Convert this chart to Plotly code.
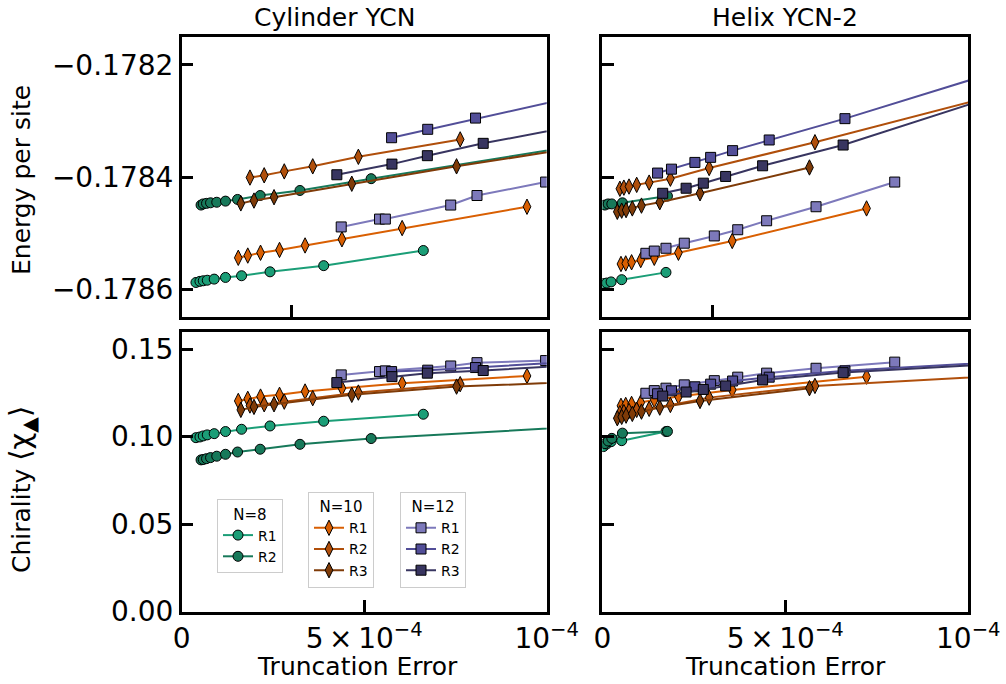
import plotly.graph_objects as go

# ---------------- data (truncation error in units of 1e-4) ----------------
X_UNIT = 1e-4

# Cylinder YCN
cyl_n8_r1_x = [0.39, 0.50, 0.59, 0.70, 0.89, 1.20, 1.64, 2.42, 3.89, 6.62]
cyl_n8_r1_E = [-0.178588, -0.178586, -0.178585, -0.178584, -0.178582, -0.178579, -0.178576, -0.178569, -0.178558, -0.178531]
cyl_n8_r1_chi = [0.0994, 0.0998, 0.1004, 0.1010, 0.1017, 0.1029, 0.1042, 0.1061, 0.1088, 0.1128]

cyl_n8_r2_x = [0.53, 0.59, 0.68, 0.79, 0.96, 1.20, 1.53, 2.15, 3.24, 5.19, 12.0]
cyl_n8_r2_E = [-0.178450, -0.178448, -0.178447, -0.178446, -0.178445, -0.178443, -0.178440, -0.178433, -0.178424, -0.178403, -0.178332]
cyl_n8_r2_chi = [0.0867, 0.0869, 0.0874, 0.0880, 0.0888, 0.0899, 0.0912, 0.0928, 0.0956, 0.0989, 0.1070]

cyl_n10_r1_x = [1.55, 1.81, 2.16, 2.68, 3.38, 4.39, 6.04, 9.46]
cyl_n10_r1_E = [-0.178544, -0.178540, -0.178535, -0.178530, -0.178522, -0.178511, -0.178491, -0.178453]
cyl_n10_r1_chi = [0.1204, 0.1216, 0.1229, 0.1239, 0.1258, 0.1277, 0.1305, 0.1347]

cyl_n10_r2_x = [1.87, 2.26, 2.81, 3.59, 4.84, 7.63]
cyl_n10_r2_E = [-0.178401, -0.178397, -0.178390, -0.178381, -0.178364, -0.178333]
cyl_n10_r2_chi = [0.1178, 0.1185, 0.1200, 0.1220, 0.1252, 0.1300]

cyl_n10_r3_x = [1.62, 1.98, 2.53, 4.66, 7.53, 12.0]
cyl_n10_r3_E = [-0.178447, -0.178442, -0.178436, -0.178412, -0.178381, -0.178336]
cyl_n10_r3_chi = [0.1153, 0.1170, 0.1185, 0.1239, 0.1286, 0.1322]

cyl_n12_r1_x = [4.37, 5.42, 5.58, 7.37, 8.09, 9.97]
cyl_n12_r1_E = [-0.178489, -0.178475, -0.178475, -0.178450, -0.178433, -0.178409]
cyl_n12_r1_chi = [0.1353, 0.1372, 0.1376, 0.1404, 0.1423, 0.1435]

cyl_n12_r2_x = [5.75, 6.74, 8.05, 12.0]
cyl_n12_r2_E = [-0.178330, -0.178315, -0.178295, -0.178239]
cyl_n12_r2_chi = [0.1372, 0.1380, 0.1395, 0.1446]

cyl_n12_r3_x = [4.25, 5.76, 6.73, 8.26, 12.0]
cyl_n12_r3_E = [-0.178396, -0.178377, -0.178362, -0.178340, -0.178294]
cyl_n12_r3_chi = [0.1309, 0.1343, 0.1363, 0.1378, 0.1425]

# Helix YCN-2
hel_n8_r1_x = [0.03, 0.12, 0.24, 0.53, 1.74]
hel_n8_r1_E = [-0.178590, -0.178589, -0.178587, -0.178583, -0.178570]
hel_n8_r1_chi = [0.0943, 0.0958, 0.0971, 0.0977, 0.1029]

hel_n8_r2_x = [0.07, 0.16, 0.26, 0.55, 1.78]
hel_n8_r2_E = [-0.178450, -0.178448, -0.178448, -0.178446, -0.178434]
hel_n8_r2_chi = [0.0960, 0.0975, 0.0990, 0.1020, 0.1030]

hel_n10_r1_x = [0.51, 0.64, 0.80, 1.05, 1.42, 2.08, 3.55, 7.22]
hel_n10_r1_E = [-0.178555, -0.178554, -0.178552, -0.178548, -0.178544, -0.178535, -0.178514, -0.178456]
hel_n10_r1_chi = [0.1176, 0.1181, 0.1187, 0.1195, 0.1210, 0.1229, 0.1267, 0.1343]

hel_n10_r2_x = [0.48, 0.59, 0.73, 0.94, 1.28, 1.86, 2.92, 5.81, 12.0]
hel_n10_r2_E = [-0.178421, -0.178419, -0.178417, -0.178414, -0.178410, -0.178403, -0.178384, -0.178338, -0.178233]
hel_n10_r2_chi = [0.1134, 0.1140, 0.1147, 0.1153, 0.1159, 0.1181, 0.1223, 0.1290, 0.1360]

hel_n10_r3_x = [0.41, 0.53, 0.65, 0.82, 1.07, 1.57, 2.67, 5.66]
hel_n10_r3_E = [-0.178462, -0.178460, -0.178459, -0.178456, -0.178451, -0.178445, -0.178429, -0.178383]
hel_n10_r3_chi = [0.1105, 0.1113, 0.1120, 0.1130, 0.1143, 0.1166, 0.1204, 0.1277]

hel_n12_r1_x = [1.19, 1.42, 1.74, 2.24, 3.06, 3.70, 4.49, 5.84, 7.99]
hel_n12_r1_E = [-0.178536, -0.178532, -0.178527, -0.178518, -0.178505, -0.178494, -0.178478, -0.178453, -0.178409]
hel_n12_r1_chi = [0.1248, 0.1263, 0.1277, 0.1296, 0.1320, 0.1340, 0.1363, 0.1391, 0.1426]

hel_n12_r2_x = [1.51, 1.89, 2.53, 2.96, 3.56, 4.56, 6.63, 12.0]
hel_n12_r2_E = [-0.178393, -0.178386, -0.178374, -0.178365, -0.178353, -0.178334, -0.178296, -0.178188]
hel_n12_r2_chi = [0.1245, 0.1262, 0.1285, 0.1300, 0.1318, 0.1340, 0.1376, 0.1440]

hel_n12_r3_x = [1.65, 2.29, 2.76, 3.37, 4.38, 6.58, 12.0]
hel_n12_r3_E = [-0.178429, -0.178420, -0.178411, -0.178399, -0.178380, -0.178343, -0.178229]
hel_n12_r3_chi = [0.1232, 0.1255, 0.1270, 0.1290, 0.1324, 0.1366, 0.1430]

col_titles = ["Cylinder YCN", "Helix YCN-2"]
x_tickvals = [0, 5, 10]
x_ticktext = ["0", "5\u2009×\u200910<sup>−4</sup>", "10<sup>−4</sup>"]
E_ticks = [-0.1786, -0.1784, -0.1782]
chi_ticks = [0.00, 0.05, 0.10, 0.15]

# ---------------- styles ----------------
COL = {
    ("N8", "R1"): "#1b9e77", ("N8", "R2"): "#17795a",
    ("N10", "R1"): "#d95f02", ("N10", "R2"): "#b04f0b", ("N10", "R3"): "#7f3b08",
    ("N12", "R1"): "#7d79bb", ("N12", "R2"): "#524e98", ("N12", "R3"): "#383560",
}
SYM = {"N8": "circle", "N10": "diamond-tall", "N12": "square"}
MSIZE = {"N8": 10, "N10": 11, "N12": 10}
LEG = {"N8": "legend", "N10": "legend2", "N12": "legend3"}

cyl = [
    ("N8", "R1", cyl_n8_r1_x, cyl_n8_r1_E, cyl_n8_r1_chi),
    ("N8", "R2", cyl_n8_r2_x, cyl_n8_r2_E, cyl_n8_r2_chi),
    ("N10", "R1", cyl_n10_r1_x, cyl_n10_r1_E, cyl_n10_r1_chi),
    ("N10", "R2", cyl_n10_r2_x, cyl_n10_r2_E, cyl_n10_r2_chi),
    ("N10", "R3", cyl_n10_r3_x, cyl_n10_r3_E, cyl_n10_r3_chi),
    ("N12", "R1", cyl_n12_r1_x, cyl_n12_r1_E, cyl_n12_r1_chi),
    ("N12", "R2", cyl_n12_r2_x, cyl_n12_r2_E, cyl_n12_r2_chi),
    ("N12", "R3", cyl_n12_r3_x, cyl_n12_r3_E, cyl_n12_r3_chi),
]
hel = [
    ("N8", "R1", hel_n8_r1_x, hel_n8_r1_E, hel_n8_r1_chi),
    ("N8", "R2", hel_n8_r2_x, hel_n8_r2_E, hel_n8_r2_chi),
    ("N10", "R1", hel_n10_r1_x, hel_n10_r1_E, hel_n10_r1_chi),
    ("N10", "R2", hel_n10_r2_x, hel_n10_r2_E, hel_n10_r2_chi),
    ("N10", "R3", hel_n10_r3_x, hel_n10_r3_E, hel_n10_r3_chi),
    ("N12", "R1", hel_n12_r1_x, hel_n12_r1_E, hel_n12_r1_chi),
    ("N12", "R2", hel_n12_r2_x, hel_n12_r2_E, hel_n12_r2_chi),
    ("N12", "R3", hel_n12_r3_x, hel_n12_r3_E, hel_n12_r3_chi),
]

fig = go.Figure()


def add(series, xa_top, ya_top, xa_bot, ya_bot, show):
    for n, r, xs, es, cs in series:
        xv = [v * X_UNIT for v in xs]
        c = COL[(n, r)]
        common = dict(
            mode="lines+markers",
            line=dict(color=c, width=2),
            marker=dict(symbol=SYM[n], size=MSIZE[n], color=c,
                        line=dict(color="black", width=1)),
            name=r,
        )
        fig.add_trace(go.Scatter(x=xv, y=es, xaxis=xa_top, yaxis=ya_top,
                                 showlegend=show, legend=LEG[n], **common))
        fig.add_trace(go.Scatter(x=xv, y=cs, xaxis=xa_bot, yaxis=ya_bot,
                                 showlegend=False, **common))


add(cyl, "x", "y", "x3", "y3", True)
add(hel, "x2", "y2", "x4", "y4", False)

W, H = 1006, 684
LX = [181.7 / W, 546.7 / W]
RX = [602.3 / W, 968.3 / W]
TY = [1 - 316.7 / H, 1 - 37.3 / H]
BY = [1 - 611.5 / H, 1 - 331.7 / H]
XR = [0, 10 * X_UNIT]
ER = [-0.178649, -0.178151]
CR = [0.0, 0.16]

axbase = dict(showline=True, linecolor="black", linewidth=2.5, mirror=True,
              ticks="inside", ticklen=12, tickwidth=2.5, tickcolor="black",
              showgrid=False, zeroline=False, automargin=False,
              tickfont=dict(size=28, color="black", family="DejaVu Sans"))

top_x = dict(axbase, range=XR, tickvals=[3 * X_UNIT], showticklabels=False)
bot_x = dict(axbase, range=XR, tickvals=[v * X_UNIT for v in x_tickvals],
             ticktext=x_ticktext)

fig.update_layout(
    width=W, height=H, margin=dict(l=0, r=0, t=0, b=0, pad=0, autoexpand=False),
    paper_bgcolor="white", plot_bgcolor="white",
    font=dict(family="DejaVu Sans", color="black"),
    xaxis=dict(top_x, domain=LX, anchor="y"),
    xaxis2=dict(top_x, domain=RX, anchor="y2"),
    xaxis3=dict(bot_x, domain=LX, anchor="y3"),
    xaxis4=dict(bot_x, domain=RX, anchor="y4"),
    yaxis=dict(axbase, domain=TY, anchor="x", range=ER, tickvals=E_ticks, tickformat=".4f"),
    yaxis2=dict(axbase, domain=TY, anchor="x2", range=ER, tickvals=E_ticks, showticklabels=False),
    yaxis3=dict(axbase, domain=BY, anchor="x3", range=CR, tickvals=chi_ticks, tickformat=".2f"),
    yaxis4=dict(axbase, domain=BY, anchor="x4", range=CR, tickvals=chi_ticks, showticklabels=False),
)

legbase = dict(xanchor="left", yanchor="top", bgcolor="white",
               bordercolor="#cccccc", borderwidth=1,
               font=dict(size=14, color="black"), itemwidth=30,
               entrywidth=72, entrywidthmode="pixels",
               tracegroupgap=0)
fig.update_layout(
    legend=dict(legbase, title=dict(text="N=8", side="top center", font=dict(size=15)),
                x=217 / W, y=1 - 499 / H),
    legend2=dict(legbase, title=dict(text="N=10", side="top center", font=dict(size=15)),
                 x=308 / W, y=1 - 491.7 / H),
    legend3=dict(legbase, title=dict(text="N=12", side="top center", font=dict(size=15)),
                 x=400 / W, y=1 - 491.7 / H),
)


def ann(text, px, py, size=25, angle=0):
    fig.add_annotation(text=text, x=px / W, y=1 - py / H, xref="paper", yref="paper",
                       showarrow=False, textangle=angle, xanchor="center", yanchor="middle",
                       font=dict(size=size, color="black", family="DejaVu Sans"))


ann(col_titles[0], 335, 18)
ann(col_titles[1], 785, 18)
ann("Truncation Error", 357, 666)
ann("Truncation Error", 785, 666)
ann("Energy per site", 22, 180, angle=-90)
ann("Chirality <span style='font-size:29px'>⟨χ<sub>▲</sub>⟩</span>", 22, 490, angle=-90)

fig.write_html("out.html")
